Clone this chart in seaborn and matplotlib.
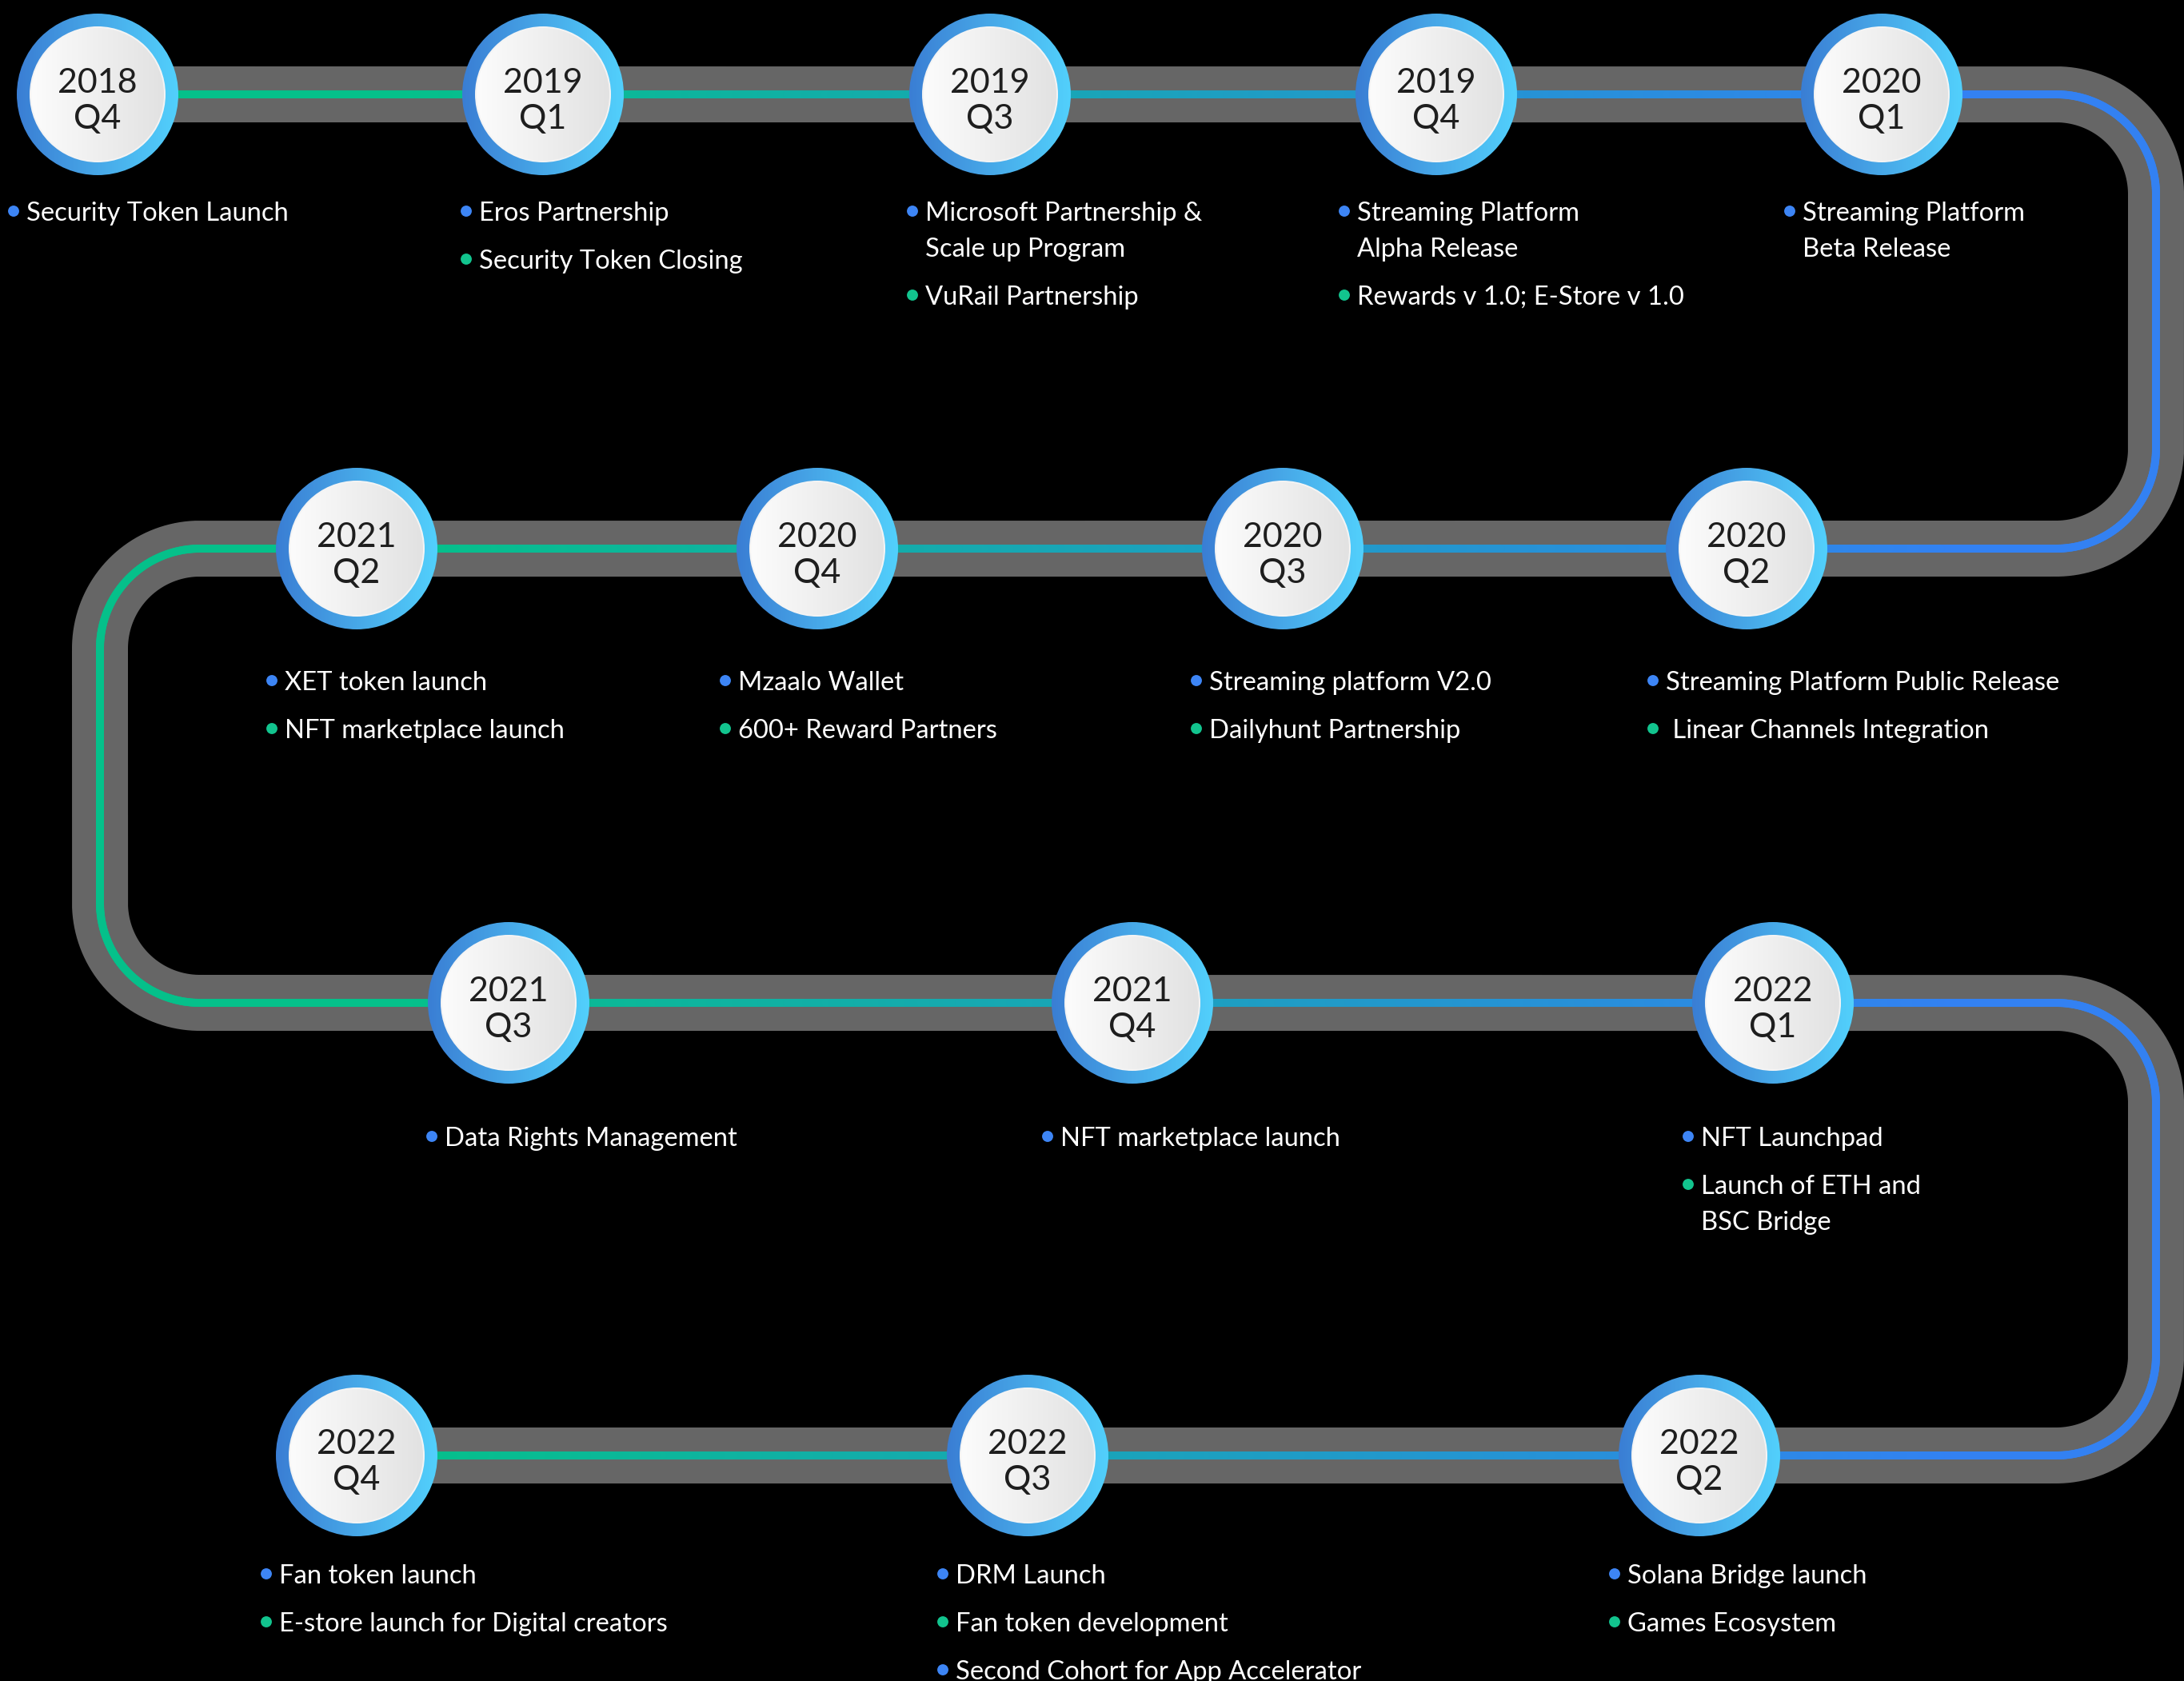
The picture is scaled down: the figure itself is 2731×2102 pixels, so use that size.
import numpy as np
import matplotlib
matplotlib.use("Agg")
import matplotlib.pyplot as plt
import seaborn as sns
from matplotlib.collections import LineCollection
from matplotlib.colors import LinearSegmentedColormap
from matplotlib.patches import Circle

# ---------------------------------------------------------
# Data: roadmap milestones in path order
# ---------------------------------------------------------
YEARS = ["2018", "2019", "2019", "2019", "2020", "2020", "2020", "2020",
         "2021", "2021", "2021", "2022", "2022", "2022", "2022"]
QUARTERS = ["Q4", "Q1", "Q3", "Q4", "Q1", "Q2", "Q3", "Q4",
            "Q2", "Q3", "Q4", "Q1", "Q2", "Q3", "Q4"]

ITEMS = [
    ["Security Token Launch"],
    ["Eros Partnership", "Security Token Closing"],
    ["Microsoft Partnership &\nScale up Program", "VuRail Partnership"],
    ["Streaming Platform\nAlpha Release", "Rewards v 1.0; E-Store v 1.0"],
    ["Streaming Platform\nBeta Release"],
    ["Streaming Platform Public Release", " Linear Channels Integration"],
    ["Streaming platform V2.0", "Dailyhunt Partnership"],
    ["Mzaalo Wallet", "600+ Reward Partners"],
    ["XET token launch", "NFT marketplace launch"],
    ["Data Rights Management"],
    ["NFT marketplace launch"],
    ["NFT Launchpad", "Launch of ETH and\nBSC Bridge"],
    ["Solana Bridge launch", "Games Ecosystem"],
    ["DRM Launch", "Fan token development", "Second Cohort for App Accelerator"],
    ["Fan token launch", "E-store launch for Digital creators"],
]
ITEM_KINDS = [
    ["blue"], ["blue", "green"], ["blue", "green"], ["blue", "green"], ["blue"],
    ["blue", "green"], ["blue", "green"], ["blue", "green"], ["blue", "green"],
    ["blue"], ["blue"], ["blue", "green"], ["blue", "green"],
    ["blue", "green", "blue"], ["blue", "green"],
]

# ---------------------------------------------------------
# Layout (pixel space, y downwards)
# ---------------------------------------------------------
W, H = 2731, 2102
ROW_Y = [118, 686, 1254, 1820]
TEXT_Y0 = [264, 851, 1421, 1968]
MILESTONE_ROW = [0, 0, 0, 0, 0, 1, 1, 1, 1, 2, 2, 2, 3, 3, 3]
MILESTONE_X = [122, 679, 1238, 1796, 2353, 2184, 1604, 1022, 446,
               636, 1416, 2217, 2125, 1285, 446]
BULLET_X = [17, 583, 1141, 1681, 2238, 2067, 1496, 907, 340,
            540, 1310, 2111, 2019, 1179, 333]
RIGHT_X, LEFT_X, TURN_R = 2696, 125, 125
R_OUT, R_IN = 101, 83

GREEN, BLUE = "#05C08A", "#3381F2"
TRACK_GRAY = "#666666"
PX = 72 / 100  # pixels -> points at dpi 100

sns.set_theme(style="dark", rc={"figure.facecolor": "black", "axes.facecolor": "black"})
plt.rcParams["font.family"] = ["Lato", "DejaVu Sans"]


def arc(cx, cy, a0, a1, n=80):
    a = np.radians(np.linspace(a0, a1, n))
    return cx + TURN_R * np.cos(a), cy + TURN_R * np.sin(a)


def line(x0, y0, x1, y1):
    n = int(max(abs(x1 - x0), abs(y1 - y0)) / 8) + 2
    return np.linspace(x0, x1, n), np.linspace(y0, y1, n)


# serpentine track
r = TURN_R
pieces = [
    line(MILESTONE_X[0], ROW_Y[0], RIGHT_X - r, ROW_Y[0]),
    arc(RIGHT_X - r, ROW_Y[0] + r, -90, 0),
    line(RIGHT_X, ROW_Y[0] + r, RIGHT_X, ROW_Y[1] - r),
    arc(RIGHT_X - r, ROW_Y[1] - r, 0, 90),
    line(RIGHT_X - r, ROW_Y[1], LEFT_X + r, ROW_Y[1]),
    arc(LEFT_X + r, ROW_Y[1] + r, -90, -180),
    line(LEFT_X, ROW_Y[1] + r, LEFT_X, ROW_Y[2] - r),
    arc(LEFT_X + r, ROW_Y[2] - r, 180, 90),
    line(LEFT_X + r, ROW_Y[2], RIGHT_X - r, ROW_Y[2]),
    arc(RIGHT_X - r, ROW_Y[2] + r, -90, 0),
    line(RIGHT_X, ROW_Y[2] + r, RIGHT_X, ROW_Y[3] - r),
    arc(RIGHT_X - r, ROW_Y[3] - r, 0, 90),
    line(RIGHT_X - r, ROW_Y[3], MILESTONE_X[-1], ROW_Y[3]),
]
px = np.concatenate([p[0] for p in pieces])
py = np.concatenate([p[1] for p in pieces])

fig = plt.figure(figsize=(W / 100, H / 100), dpi=100)
ax = fig.add_axes([0, 0, 1, 1])
ax.set_facecolor("black")

ax.plot(px, py, color=TRACK_GRAY, lw=70 * PX, solid_capstyle="butt",
        solid_joinstyle="round", zorder=1)

# green -> blue gradient on the inner line, driven by x position
cmap = LinearSegmentedColormap.from_list("gb", [GREEN, BLUE])
pts = np.column_stack([px, py]).reshape(-1, 1, 2)
segs = np.concatenate([pts[:-1], pts[1:]], axis=1)
t = np.clip((0.5 * (px[:-1] + px[1:]) - 500) / (2450 - 500), 0, 1)
lc = LineCollection(segs, colors=cmap(t), linewidths=10 * PX, capstyle="round", zorder=2)
ax.add_collection(lc)

# milestone bubbles
ring_cmap = LinearSegmentedColormap.from_list("ring", ["#3A7ED4", "#47A8E8", "#52D0FC"])
face_cmap = LinearSegmentedColormap.from_list("face", ["#FCFCFC", "#E2E2E2"])
grad = np.linspace(0, 1, 256).reshape(1, -1)
for i, (yr, q) in enumerate(zip(YEARS, QUARTERS)):
    cx, cy = MILESTONE_X[i], ROW_Y[MILESTONE_ROW[i]]
    outer = Circle((cx, cy), R_OUT, transform=ax.transData)
    im = ax.imshow(grad, cmap=ring_cmap, extent=[cx - R_OUT, cx + R_OUT, cy + R_OUT, cy - R_OUT],
                   aspect="auto", interpolation="bilinear", zorder=3)
    im.set_clip_path(outer)
    ax.add_patch(Circle((cx, cy), R_IN + 2, facecolor="#F4F4F4", edgecolor="none", zorder=4))
    inner = Circle((cx, cy), R_IN, transform=ax.transData)
    im2 = ax.imshow(grad, cmap=face_cmap, extent=[cx - R_IN, cx + R_IN, cy + R_IN, cy - R_IN],
                    aspect="auto", interpolation="bilinear", zorder=5)
    im2.set_clip_path(inner)
    ax.text(cx, cy - 2, yr, ha="center", va="baseline", fontsize=31, color="#1E1E1E", zorder=6)
    ax.text(cx, cy + 43, q, ha="center", va="baseline", fontsize=31, color="#1E1E1E", zorder=6)

# bullet items
bx, by, bk = [], [], []
for i, items in enumerate(ITEMS):
    y = TEXT_Y0[MILESTONE_ROW[i]]
    for text, kind in zip(items, ITEM_KINDS[i]):
        bx.append(BULLET_X[i])
        by.append(y)
        bk.append(kind)
        for line_txt in text.split("\n"):
            ax.text(BULLET_X[i] + 16, y + 12, line_txt, ha="left", va="baseline",
                    fontsize=23.6, color="white", zorder=6)
            y += 45
        y += 15

sns.scatterplot(x=bx, y=by, hue=bk, palette={"blue": "#3D85F5", "green": "#12C48E"},
                s=100, linewidth=0, legend=False, ax=ax, zorder=6)

ax.set_xlim(0, W)
ax.set_ylim(H, 0)
ax.set_axis_off()
fig.savefig("out.png", dpi=100, facecolor="black")
